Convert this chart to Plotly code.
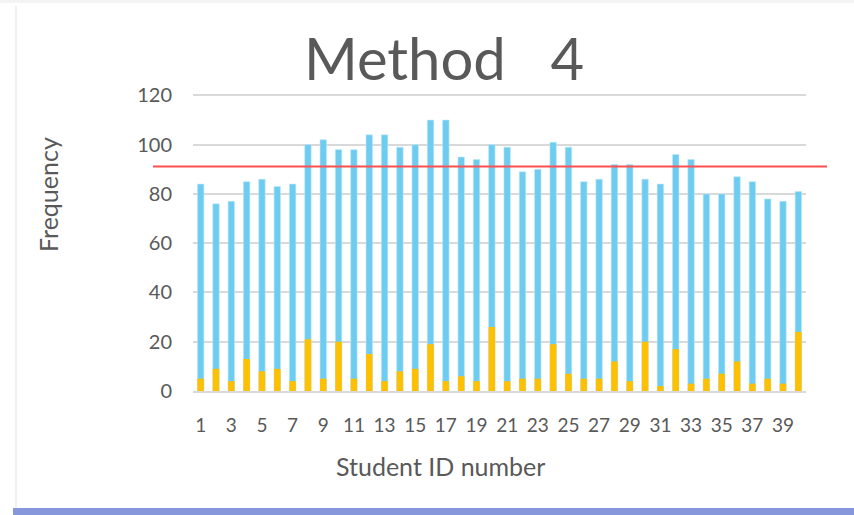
import plotly.graph_objects as go

student_ids = list(range(1, 41))
total_freq = [84, 76, 77, 85, 86, 83, 84, 100, 102, 98,
              98, 104, 104, 99, 100, 110, 110, 95, 94, 100,
              99, 89, 90, 101, 99, 85, 86, 92, 92, 86,
              84, 96, 94, 80, 80, 87, 85, 78, 77, 81]
sub_freq = [5, 9, 4, 13, 8, 9, 4, 21, 5, 20,
            5, 15, 4, 8, 9, 19, 4, 6, 4, 26,
            4, 5, 5, 19, 7, 5, 5, 12, 4, 20,
            2, 17, 3, 5, 7, 12, 3, 5, 3, 24]
threshold = 91.2
x_tick_vals = list(range(1, 41, 2))
y_tick_vals = [0, 20, 40, 60, 80, 100, 120]

FONT = "Lato"
TXT = "#595959"

fig = go.Figure()
fig.add_trace(go.Bar(x=student_ids, y=total_freq, marker=dict(color="#6DCCF0", line=dict(color="#BDE8F8", width=0.6)),
                     showlegend=False, hoverinfo="x+y"))
fig.add_trace(go.Bar(x=student_ids, y=sub_freq, marker=dict(color="#FFC000", line=dict(width=0)),
                     showlegend=False, hoverinfo="x+y"))

W, H = 854, 515
L, R, T, B = 193, 48, 93, 124
pw, ph = W - L - R, H - T - B

def px(xp):
    return (xp - L) / pw

def py(yp):
    return (H - B - yp) / ph

shapes = [
    dict(type="line", xref="paper", yref="y", x0=px(153), x1=px(827), y0=threshold, y1=threshold,
         line=dict(color="#FF5050", width=2), layer="above"),
    dict(type="rect", xref="paper", yref="paper", x0=px(13), x1=px(870), y0=py(508), y1=py(530),
         fillcolor="#8797DB", line=dict(width=0), layer="below"),
    dict(type="line", xref="paper", yref="paper", x0=px(16), x1=px(16), y0=py(6), y1=py(508),
         line=dict(color="#EEF0F8", width=2), layer="below"),
    dict(type="rect", xref="paper", yref="paper", x0=px(-10), x1=px(870), y0=py(-5), y1=py(3),
         fillcolor="#F4F4F4", line=dict(width=0), layer="below"),
]

annotations = [
    dict(text="Student ID number", xref="paper", yref="paper", x=px(440), y=py(466),
         xanchor="center", yanchor="middle", showarrow=False,
         font=dict(family=FONT, size=25, color=TXT)),
    dict(text="Frequency", xref="paper", yref="paper", x=px(48), y=py(195),
         xanchor="center", yanchor="middle", showarrow=False, textangle=-90,
         font=dict(family=FONT, size=25, color=TXT)),
]

fig.update_layout(
    width=W, height=H,
    margin=dict(l=L, r=R, t=T, b=B, autoexpand=False),
    paper_bgcolor="white", plot_bgcolor="white",
    barmode="overlay", bargap=0.58,
    title=dict(text="Method\u00a0\u00a0\u00a04", x=(305 + 583) / 2 / W, xanchor="center",
               y=1 - 60 / H, yanchor="middle",
               font=dict(family=FONT, size=58, color=TXT)),
    xaxis=dict(tickmode="array", tickvals=x_tick_vals, ticktext=[str(v) for v in x_tick_vals],
               range=[0.5, 40.5], showgrid=False, showline=True, linecolor="#D9D9D9", linewidth=2,
               ticks="", tickfont=dict(family=FONT, size=19, color=TXT), ticklabelstandoff=16,
               zeroline=False),
    yaxis=dict(tickmode="array", tickvals=y_tick_vals, range=[0, 121], showgrid=True,
               gridcolor="#D9D9D9", gridwidth=1.5, zeroline=False, showline=False, ticks="",
               tickfont=dict(family=FONT, size=20, color=TXT), ticklabelstandoff=20),
    shapes=shapes,
    annotations=annotations,
)

fig.write_html("out.html", config={"displayModeBar": False},
               post_script="document.body.style.margin='0';")
